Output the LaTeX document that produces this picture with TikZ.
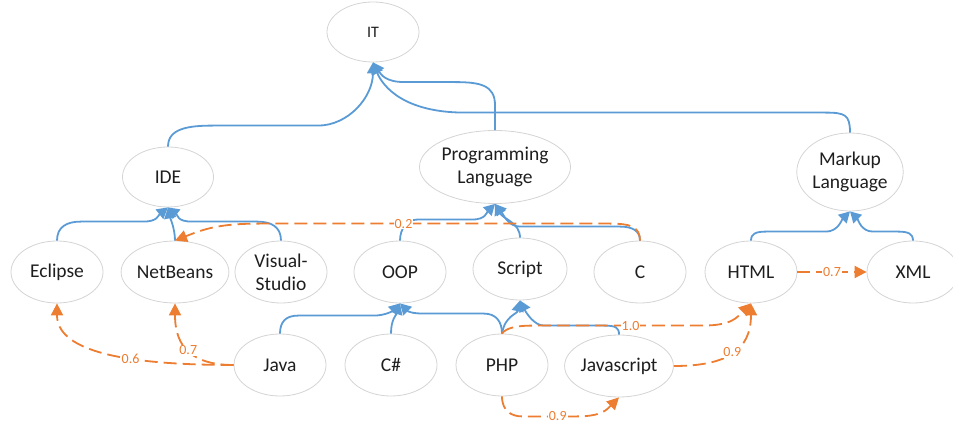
\documentclass[tikz,border=0pt]{standalone}
\usepackage{fontspec}
\setmainfont{Carlito}
\usetikzlibrary{arrows.meta,shapes.geometric}
\definecolor{isablue}{HTML}{5B9BD5}
\definecolor{simorange}{HTML}{ED7D31}
\definecolor{ringgray}{HTML}{D4D4D4}
\definecolor{textblack}{HTML}{1E1E1E}
\begin{document}
\begin{tikzpicture}[x=1pt,y=-1pt,
  concept/.style={ellipse,draw=ringgray,line width=0.8pt,inner sep=0pt,minimum width=92pt,minimum height=62pt,text=textblack,align=center,font=\fontsize{19.5}{23}\selectfont},
  isa/.style={draw=isablue,line width=1.8pt,-{Triangle[width=12pt,length=11pt]}},
  sim/.style={draw=simorange,line width=1.8pt,dash pattern=on 13pt off 6pt,-{Triangle[width=12pt,length=12pt]}},
  weight/.style={fill=white,text=simorange,inner sep=1pt,font=\fontsize{14}{16}\selectfont}]
  \useasboundingbox (0,0) rectangle (953,427);
  \node[concept,minimum height=60pt,font=\fontsize{16}{18}\selectfont] (it) at (373,32) {IT};
  \node[concept,minimum width=91pt,minimum height=60pt] (ide) at (168,177) {IDE};
  \node[concept,minimum width=140pt,minimum height=73pt] (pl) at (495,167) {Programming\\Language};
  \node[concept,minimum width=106pt,minimum height=78pt] (ml) at (850,172) {Markup\\Language};
  \node[concept] (ecl) at (57,272) {Eclipse};
  \node[concept,minimum width=105pt] (nb) at (175,272) {NetBeans};
  \node[concept] (vs) at (281,272) {Visual-\\Studio};
  \node[concept] (oop) at (400,272) {OOP};
  \node[concept,minimum width=94pt] (script) at (520,269) {Script};
  \node[concept] (c) at (640,272) {C};
  \node[concept] (html) at (751,272) {HTML};
  \node[concept] (xml) at (913,272) {XML};
  \node[concept] (java) at (280,365) {Java};
  \node[concept] (cs) at (391,365) {C\#};
  \node[concept] (php) at (502,365) {PHP};
  \node[concept,minimum width=105pt] (js) at (619,366) {Javascript};
  \draw[isa] (ide.north) .. controls +(0,-18) and +(-25,0) .. ++(45,-21) -- ++(105,0) .. controls +(30,0) and +(0,35) .. (it.south);
  \draw[isa] (pl.north) -- ++(0,-25) .. controls +(0,-20) and +(25,0) .. ++(-40,-23) -- ++(-50,0) .. controls +(-20,0) and +(8,12) .. (it.south);
  \draw[isa] (ml.north) .. controls +(0,-18) and +(20,0) .. ++(-25,-20) -- ++(-360,0) .. controls +(-60,0) and +(10,25) .. (it.south);
  \draw[isa] (ecl.north) .. controls +(0,-14) and +(-14,0) .. ++(24,-19) -- ++(62,0) .. controls +(15,0) and +(-10,8) .. (ide.south);
  \draw[isa] (nb.north) .. controls +(0,-12) and +(2,10) .. (ide.south);
  \draw[isa] (vs.north) .. controls +(0,-14) and +(14,0) .. ++(-24,-19) -- ++(-65,0) .. controls +(-15,0) and +(10,8) .. (ide.south);
  \draw[isa] (oop.north) .. controls +(0,-12) and +(-10,0) .. ++(17,-21) -- ++(55,0) .. controls +(14,0) and +(-8,8) .. (pl.south);
  \draw[isa] (script.north) .. controls +(0,-15) and +(8,15) .. (pl.south);
  \draw[isa] (c.north) .. controls +(0,-10) and +(12,0) .. ++(-20,-14) -- ++(-100,0) .. controls +(-12,0) and +(8,10) .. (pl.south);
  \draw[isa] (html.north) .. controls +(0,-7) and +(-10,0) .. ++(15,-9) -- ++(60,0) .. controls +(12,0) and +(-8,8) .. (ml.south);
  \draw[isa] (xml.north) .. controls +(0,-7) and +(10,0) .. ++(-15,-9) -- ++(-25,0) .. controls +(-12,0) and +(8,8) .. (ml.south);
  \draw[isa] (java.north) .. controls +(0,-12) and +(-12,0) .. ++(18,-18) -- ++(75,0) .. controls +(12,0) and +(-8,8) .. (oop.south);
  \draw[isa] (cs.north) .. controls +(0,-14) and +(-4,12) .. (oop.south);
  \draw[isa] (php.north) .. controls +(0,-12) and +(12,0) .. ++(-18,-20) -- ++(-60,0) .. controls +(-12,0) and +(8,8) .. (oop.south);
  \draw[isa] (php.north) .. controls +(3,-18) and +(-3,14) .. (script.south);
  \draw[isa] (js.north) .. controls +(0,-7) and +(12,0) .. ++(-15,-9) -- ++(-60,0) .. controls +(-10,0) and +(6,12) .. (script.south);
  \draw[sim] (c.north) .. controls +(0,-14) and +(20,0) .. ++(-30,-17) -- node[weight,pos=0.59] {0.2} ++(-350,0) .. controls +(-40,0) and +(30,-12) .. (nb.north);
  \draw[sim] (html.east) -- node[weight] {0.7} (xml.west);
  \draw[sim] (php.north) .. controls +(4,-6) and +(-14,0) .. ++(30,-8) -- node[weight,pos=0.58] {1.0} ++(170,0) .. controls +(30,0) and +(-14,14) .. (html.south);
  \draw[sim] (js.east) .. controls +(53,0) and +(0,47) .. node[weight,pos=0.5] {0.9} (html.south);
  \draw[sim] (php.south) .. controls +(0,15) and +(-10,0) .. ++(20,20) -- node[weight,pos=0.65] {0.9} ++(55,0) .. controls +(25,0) and +(-12,12) .. (js.south);
  \draw[sim] (java.west) .. controls +(-120,0) and +(0,45) .. node[weight,pos=0.35] {0.6} (ecl.south);
  \draw[sim] (java.west) .. controls +(-50,0) and +(0,35) .. node[weight,pos=0.45] {0.7} (nb.south);
\end{tikzpicture}
\end{document}
